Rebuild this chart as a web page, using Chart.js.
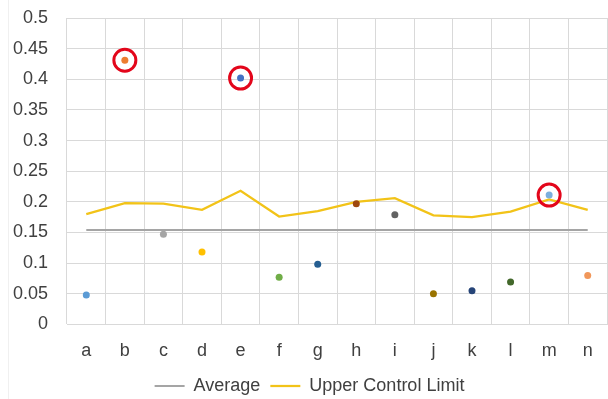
<!DOCTYPE html>
<html>
<head>
<meta charset="utf-8">
<script src="https://cdn.jsdelivr.net/npm/chart.js@4.4.1/dist/chart.umd.min.js"></script>
<style>
  html, body { margin: 0; padding: 0; background: #ffffff; }
  #wrap { position: relative; width: 608px; height: 399px; }
</style>
</head>
<body>
<div id="wrap"><canvas id="c" width="608" height="399"></canvas></div>
<script>
const categories = ['a','b','c','d','e','f','g','h','i','j','k','l','m','n'];
const proportionValues = [0.048, 0.431, 0.147, 0.118, 0.402, 0.077, 0.098, 0.197, 0.179, 0.050, 0.055, 0.069, 0.211, 0.080];
const averageValues = [0.154, 0.154, 0.154, 0.154, 0.154, 0.154, 0.154, 0.154, 0.154, 0.154, 0.154, 0.154, 0.154, 0.154];
const uclValues = [0.180, 0.198, 0.197, 0.187, 0.218, 0.176, 0.185, 0.200, 0.206, 0.178, 0.175, 0.184, 0.204, 0.187];
const pointColors = ['#5b9bd5','#ed7d31','#a5a5a5','#ffc000','#4472c4','#70ad47','#255e91','#9e480e','#636363','#997300','#264478','#43682b','#7cafdd','#f1975a'];
const yTicks = [0, 0.05, 0.1, 0.15, 0.2, 0.25, 0.3, 0.35, 0.4, 0.45, 0.5];

const outlierValues = proportionValues.map((v, i) => v > uclValues[i] ? v : null);

const borderPlugin = {
  id: 'leftBorder',
  beforeDraw(chart) {
    const ctx = chart.ctx;
    ctx.save();
    ctx.strokeStyle = '#f0f0f0';
    ctx.lineWidth = 1;
    ctx.beginPath();
    ctx.moveTo(8.5, 0);
    ctx.lineTo(8.5, 399);
    ctx.stroke();
    ctx.restore();
  }
};

new Chart(document.getElementById('c'), {
  type: 'line',
  data: {
    labels: categories,
    datasets: [
      {
        label: 'Average',
        data: averageValues,
        borderColor: '#a5a5a5',
        backgroundColor: '#a5a5a5',
        borderWidth: 2,
        pointRadius: 0,
        tension: 0,
        order: 3
      },
      {
        label: 'Upper Control Limit',
        data: uclValues,
        borderColor: '#f2c318',
        backgroundColor: '#f2c318',
        borderWidth: 2.25,
        pointRadius: 0,
        tension: 0,
        order: 2
      },
      {
        label: 'Proportion',
        data: proportionValues,
        showLine: false,
        pointRadius: 3.5,
        pointBackgroundColor: pointColors,
        pointBorderColor: pointColors,
        pointBorderWidth: 0,
        order: 1
      },
      {
        label: 'Outliers',
        data: outlierValues,
        showLine: false,
        pointRadius: 11,
        pointBackgroundColor: 'rgba(0,0,0,0)',
        pointBorderColor: '#e3061b',
        pointBorderWidth: 3,
        order: 0
      }
    ]
  },
  options: {
    responsive: false,
    animation: false,
    events: [],
    layout: { autoPadding: false, padding: { left: 12, right: 1, top: 18, bottom: -6 } },
    scales: {
      x: {
        offset: true,
        afterFit(axis) {
          axis.height = 42.6;
          axis.paddingLeft = 0; axis.paddingRight = 0;
          axis.paddingTop = 0; axis.paddingBottom = 0;
        },
        grid: { offset: true, color: '#d9d9d9', drawTicks: false },
        border: { color: '#d9d9d9' },
        ticks: { color: '#404040', font: { family: 'Liberation Sans', size: 18 }, padding: 16, maxRotation: 0 }
      },
      y: {
        min: 0,
        max: 0.5,
        afterFit(axis) {
          axis.width = 55;
          axis.paddingTop = 0; axis.paddingBottom = 0;
          axis.paddingLeft = 0; axis.paddingRight = 0;
        },
        afterBuildTicks(axis) { axis.ticks = yTicks.map(v => ({ value: v })); },
        grid: { color: '#d9d9d9', drawTicks: false },
        border: { display: false },
        ticks: {
          color: '#404040',
          font: { family: 'Liberation Sans', size: 18 },
          padding: 19,
          callback: v => String(+v.toFixed(2))
        }
      }
    },
    plugins: {
      tooltip: { enabled: false },
      legend: {
        position: 'bottom',
        labels: {
          usePointStyle: true,
          pointStyle: 'line',
          pointStyleWidth: 30,
          color: '#404040',
          font: { family: 'Liberation Sans', size: 18 },
          padding: 10,
          generateLabels(chart) {
            return chart.data.datasets.slice(0, 2).map((ds, i) => ({
              text: ds.label,
              fillStyle: ds.borderColor,
              strokeStyle: ds.borderColor,
              lineWidth: ds.borderWidth,
              pointStyle: 'line',
              hidden: false,
              datasetIndex: i,
              fontColor: '#404040'
            }));
          }
        }
      }
    }
  },
  plugins: [borderPlugin]
});
</script>
</body>
</html>
